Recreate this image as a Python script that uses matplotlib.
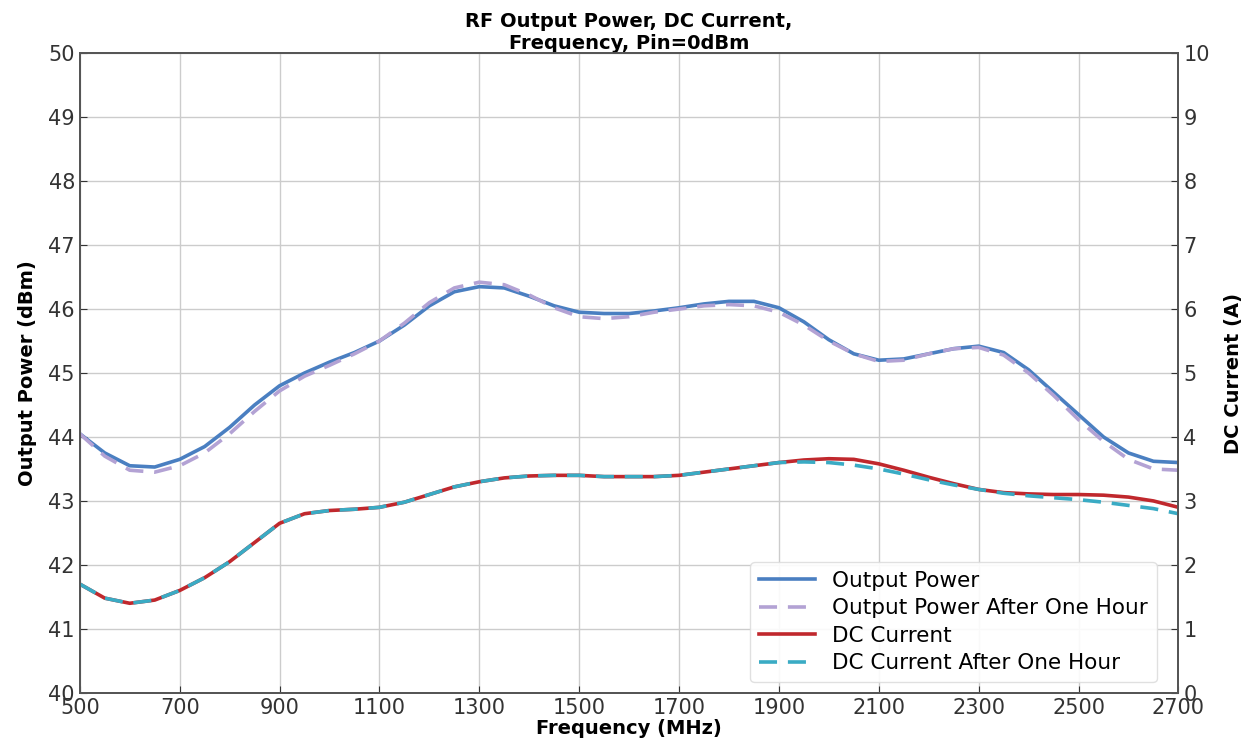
import numpy as np
import matplotlib.pyplot as plt

freq = np.arange(500, 2701, 50)

power = [44.05, 43.75, 43.55, 43.53, 43.65, 43.85, 44.15, 44.5, 44.8, 45.0,
         45.17, 45.32, 45.5, 45.75, 46.05, 46.27, 46.35, 46.33, 46.2, 46.05,
         45.95, 45.93, 45.93, 45.97, 46.02, 46.08, 46.12, 46.12, 46.02, 45.8,
         45.52, 45.3, 45.2, 45.22, 45.3, 45.38, 45.42, 45.32, 45.05, 44.7,
         44.35, 44.0, 43.75, 43.62, 43.6]
power_1h = [44.05, 43.7, 43.48, 43.45, 43.55, 43.75, 44.05, 44.4, 44.72, 44.95,
            45.12, 45.3, 45.5, 45.78, 46.1, 46.33, 46.42, 46.38, 46.22, 46.02,
            45.88, 45.85, 45.88, 45.95, 46.0, 46.05, 46.07, 46.05, 45.95, 45.75,
            45.5, 45.3, 45.18, 45.2, 45.3, 45.38, 45.4, 45.28, 45.0, 44.65,
            44.27, 43.93, 43.65, 43.5, 43.48]
current = [1.7, 1.48, 1.4, 1.45, 1.6, 1.8, 2.05, 2.35, 2.65, 2.8,
           2.85, 2.87, 2.9, 2.98, 3.1, 3.22, 3.3, 3.36, 3.39, 3.4,
           3.4, 3.38, 3.38, 3.38, 3.4, 3.45, 3.5, 3.55, 3.6, 3.64,
           3.66, 3.65, 3.58, 3.48, 3.37, 3.27, 3.18, 3.13, 3.11, 3.1,
           3.1, 3.09, 3.06, 3.0, 2.9]
current_1h = [1.7, 1.48, 1.4, 1.45, 1.6, 1.8, 2.05, 2.35, 2.65, 2.8,
              2.85, 2.87, 2.9, 2.98, 3.1, 3.22, 3.3, 3.36, 3.39, 3.4,
              3.4, 3.38, 3.38, 3.38, 3.4, 3.45, 3.5, 3.55, 3.6, 3.61,
              3.6, 3.56, 3.5, 3.42, 3.33, 3.25, 3.18, 3.12, 3.08, 3.05,
              3.02, 2.98, 2.93, 2.88, 2.8]

fig = plt.figure(figsize=(12.47, 7.49), dpi=100)
ax = fig.add_axes([0.064, 0.075, 0.881, 0.854])
ax2 = ax.twinx()

kw = dict(lw=2.6, solid_joinstyle='round', dash_joinstyle='round')
l1, = ax.plot(freq, power, color='#4a7fc1', label='Output Power', **kw)
l2, = ax.plot(freq, power_1h, color='#b3a2d4', ls=(0, (5, 3)),
              label='Output Power After One Hour', **kw)
l3, = ax2.plot(freq, current, color='#c0282d', label='DC Current', **kw)
l4, = ax2.plot(freq, current_1h, color='#3aabc4', ls=(0, (5, 3)),
               label='DC Current After One Hour', **kw)

ax.set_xlim(500, 2700)
ax.set_ylim(40, 50)
ax2.set_ylim(0, 10)
ax.set_xticks(np.arange(500, 2701, 200))
ax.set_yticks(np.arange(40, 51, 1))
ax2.set_yticks(np.arange(0, 11, 1))
ax.grid(True, color='#cccccc', lw=1)
ax.set_axisbelow(True)

for a in (ax, ax2):
    a.tick_params(direction='in', labelsize=15, colors='#333333', length=5)
    for s in a.spines.values():
        s.set_color('#555555')
        s.set_linewidth(1.3)

ax.set_xlabel('Frequency (MHz)', fontsize=14, fontweight='bold', labelpad=1)
ax.set_ylabel('Output Power (dBm)', fontsize=14, fontweight='bold', labelpad=8)
ax2.set_ylabel('DC Current (A)', fontsize=14, fontweight='bold', labelpad=10)
ax.set_title('RF Output Power, DC Current,\nFrequency, Pin=0dBm',
             fontsize=14, fontweight='bold', pad=3, linespacing=1.2)

ax2.legend(handles=[l1, l2, l3, l4], loc='lower right', fontsize=15.5,
           framealpha=0.9, edgecolor='#dddddd', handlelength=2.6,
           borderaxespad=0.5, labelspacing=0.35, bbox_to_anchor=(0.99, 0.0))

fig.savefig('out.png', dpi=100)
